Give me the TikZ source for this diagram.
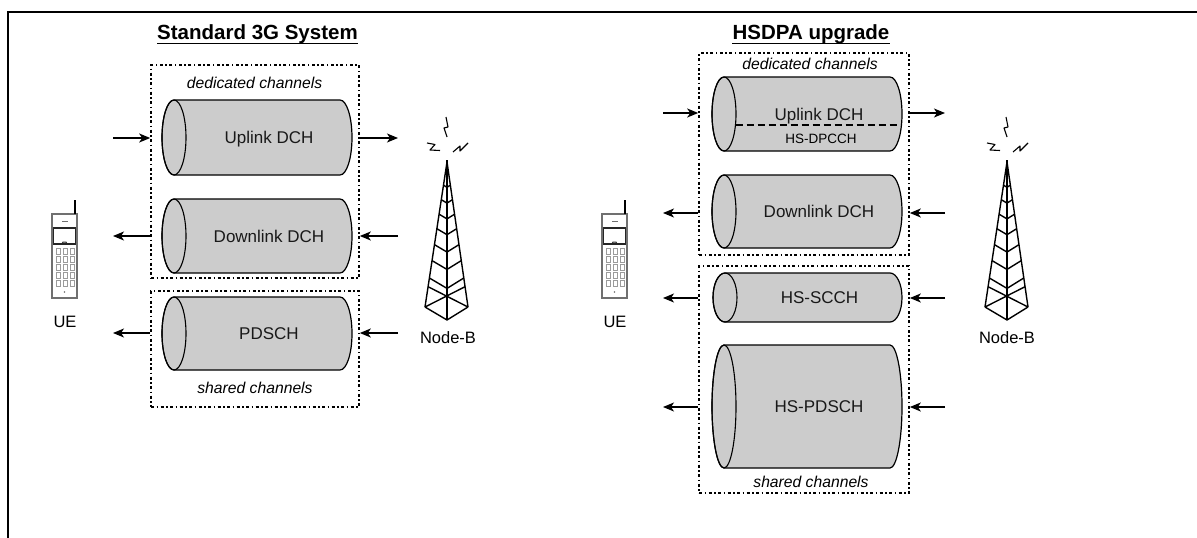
\documentclass[tikz,border=0pt]{standalone}
\usepackage{fontspec}
\setmainfont{Liberation Sans}
\usetikzlibrary{arrows.meta}
\definecolor{cylgray}{HTML}{CCCCCC}
\definecolor{phonegray}{HTML}{707070}
\newcommand\chan[6]{% name, x1, x2, ytop, ybot, text
  \filldraw[cylstyle] (#2+12,#4) -- (#3-12,#4)
    arc[start angle=-90,end angle=90,x radius=12,y radius={(#5-#4)/2}]
    -- (#2+12,#5)
    arc[start angle=90,end angle=270,x radius=12,y radius={(#5-#4)/2}] -- cycle;
  \draw[cylline] (#2+12,{(#4+#5)/2}) ellipse[x radius=12,y radius={(#5-#4)/2}];
  \node[chlabel] (#1) at ({(#2+#3)/2+12},{(#4+#5)/2+6}) {#6};
}
\newcommand\phoneicon[1]{%
  \begin{scope}[shift={(#1,0)}]
    \draw[phonegray, line width=1.2pt, fill=white] (0,214) rectangle (25,298);
    \draw[line width=2.2pt] (23,200) -- (23,214);
    \draw[phonegray, line width=1pt] (10,221) -- (16,221);
    \draw[black!85, line width=1.8pt] (1.5,228) rectangle (23.5,244);
    \draw[black!85, line width=1pt] (10,244) -- (11,242) -- (14,242) -- (15,244);
    \foreach \r in {0,...,4} \foreach \c in {0,1,2}
      \draw[phonegray!70, line width=0.6pt] (4+\c*7,248+\r*8) rectangle ++(4.5,6);
    \fill[phonegray] (12.5,292) circle[radius=0.9];
  \end{scope}}
\newcommand\towericon[1]{%
  \begin{scope}[shift={(#1,0)}, line width=1.4pt, line join=round]
    \draw (-22,307) -- (0,162) -- (21,307);
    \draw (0,160) -- (0,320);
    \draw (-22,307) -- (0,320) -- (21,307);
    \foreach \t in {0.16,0.26,0.36,0.46,0.57,0.68,0.8}
      \draw ({-22*\t},{162+145*\t}) -- (0,{162+158*\t}) -- ({21*\t},{162+145*\t});
    \draw ({-22*0.86},{162+145*0.86}) -- (21,307);
    \draw ({21*0.86},{162+145*0.86}) -- (-22,307);
    \draw[line width=1.1pt] (-1,117) -- (1,127) -- (-3,128) -- (0,137);
    \draw[line width=1.1pt] (-20,143) -- (-12,144.5) -- (-17,150) -- (-7,150.5);
    \draw[line width=1.1pt] (6,152) -- (13,146) -- (13,151) -- (21,143);
  \end{scope}}
\begin{document}
\begin{tikzpicture}[x=1pt,y=-1pt,
  cylstyle/.style={fill=cylgray, draw=black, line width=1.2pt},
  cylline/.style={draw=black, line width=1.1pt},
  chlabel/.style={anchor=base, inner sep=0pt, text=black!90, font=\fontsize{17}{20}\selectfont},
  chbox/.style={draw, line width=1.6pt, dash pattern=on 3pt off 2.5pt on 1.5pt off 2.5pt},
  italic/.style={anchor=base, inner sep=0pt, font=\itshape\fontsize{15.7}{18}\selectfont},
  ttl/.style={anchor=base, inner sep=0pt, font=\bfseries\fontsize{20.5}{24}\selectfont},
  devlabel/.style={anchor=base, inner sep=0pt, font=\fontsize{16.5}{20}\selectfont},
  arr/.style={line width=1.5pt, -{Stealth[length=11pt,width=9pt,inset=3pt]}},
  dashline/.style={line width=1.5pt, dash pattern=on 7pt off 4pt}
]
\useasboundingbox (0,0) rectangle (1197,538);
% frame
\draw[line width=1.5pt] (8,538) -- (8,12) -- (1197,12);

% ---------------- left: standard 3G ----------------
\node[ttl] (t1) at (257.5,39.3) {Standard 3G System};
\draw[line width=1.5pt] ([yshift=-4.3pt]t1.base west) -- ([yshift=-4.3pt]t1.base east);

\node[chbox, minimum width=208pt, minimum height=213pt] (dedL) at (255,171.5) {};
\node[chbox, minimum width=208pt, minimum height=116pt] (shL) at (255,349) {};
\node[italic] (dcL) at (254.5,88.5) {dedicated channels};
\node[italic] (scL) at (255,393.5) {shared channels};

\chan{ulL}{162}{352}{100}{175}{Uplink DCH}
\chan{dlL}{162}{352}{199}{273}{Downlink DCH}
\chan{pdL}{162}{352}{297}{370}{PDSCH}

\coordinate (a1) at (113,138);  \coordinate (a2) at (398,138);
\coordinate (a3) at (113,236);  \coordinate (a4) at (398,236);
\coordinate (a5) at (113,333);  \coordinate (a6) at (398,333);
\draw[arr] (a1) -- (a1 -| dedL.west);
\draw[arr] (a2 -| dedL.east) -- (a2);
\draw[arr] (a3 -| dedL.west) -- (a3);
\draw[arr] (a4) -- (a4 -| dedL.east);
\draw[arr] (a5 -| shL.west) -- (a5);
\draw[arr] (a6) -- (a6 -| shL.east);

\phoneicon{52}
\node[devlabel] (ueL) at (65,327.5) {UE};
\towericon{447}
\node[devlabel] (nbL) at (448,343) {Node-B};

% ---------------- right: HSDPA ----------------
\node[ttl] (t2) at (811,39.3) {HSDPA upgrade};
\draw[line width=1.5pt] ([yshift=-4.3pt]t2.base west) -- ([yshift=-4.3pt]t2.base east);

\node[chbox, minimum width=210pt, minimum height=202pt] (dedR) at (804,154) {};
\node[chbox, minimum width=210pt, minimum height=227pt] (shR) at (804,379.5) {};
\node[italic] (dcR) at (810,69.5) {dedicated channels};
\node[italic] (scR) at (811,487.5) {shared channels};

\chan{ulR}{712}{902}{77}{151}{Uplink DCH}
\draw[dashline] (735.5,125) -- (901.5,125);
\node[anchor=base, inner sep=0pt, font=\fontsize{13.5}{16}\selectfont] (hsdp) at (821,143) {HS-DPCCH};
\chan{dlR}{712}{902}{175}{248}{Downlink DCH}
\chan{scchR}{713}{902}{273}{322}{HS-SCCH}
\chan{pdR}{712}{902}{345}{468}{HS-PDSCH}

\coordinate (b1) at (663,113);  \coordinate (b2) at (945,113);
\coordinate (b3) at (663,213);  \coordinate (b4) at (945,213);
\coordinate (b5) at (663,298);  \coordinate (b6) at (945,298);
\coordinate (b7) at (663,407);  \coordinate (b8) at (945,407);
\draw[arr] (b1) -- (b1 -| dedR.west);
\draw[arr] (b2 -| dedR.east) -- (b2);
\draw[arr] (b3 -| dedR.west) -- (b3);
\draw[arr] (b4) -- (b4 -| dedR.east);
\draw[arr] (b5 -| shR.west) -- (b5);
\draw[arr] (b6) -- (b6 -| shR.east);
\draw[arr] (b7 -| shR.west) -- (b7);
\draw[arr] (b8) -- (b8 -| shR.east);

\phoneicon{602}
\node[devlabel] (ueR) at (615,327.5) {UE};
\towericon{1007}
\node[devlabel] (nbR) at (1007,343) {Node-B};
\end{tikzpicture}
\end{document}
